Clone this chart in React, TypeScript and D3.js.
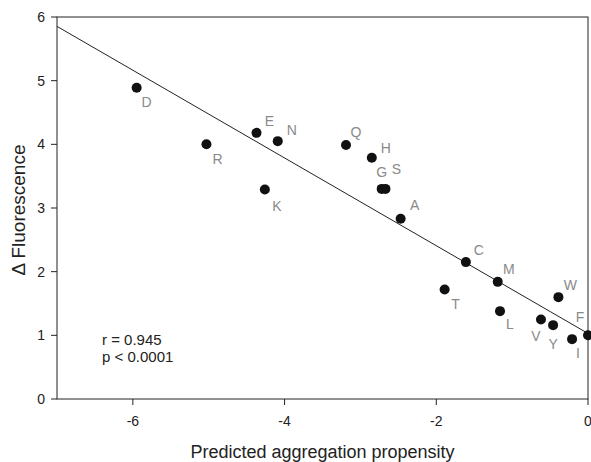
import React from 'react';
import * as d3 from 'd3';

// residue one-letter codes
const residues = ['D', 'R', 'E', 'K', 'N', 'Q', 'H', 'G', 'S', 'A', 'T', 'C', 'M', 'L', 'V', 'Y', 'W', 'I', 'F'];
// predicted aggregation propensity
const propensity = [-5.95, -5.03, -4.37, -4.26, -4.09, -3.19, -2.85, -2.72, -2.67, -2.47, -1.89, -1.61, -1.19, -1.16, -0.62, -0.46, -0.39, -0.21, 0.0];
// delta fluorescence
const fluorescence = [4.89, 4.0, 4.18, 3.29, 4.05, 3.99, 3.79, 3.3, 3.3, 2.83, 1.72, 2.15, 1.84, 1.38, 1.25, 1.16, 1.6, 0.94, 1.0];

const xTicks = [-6, -4, -2, 0];
const yTicks = [0, 1, 2, 3, 4, 5, 6];
const statsText = ['r = 0.945', 'p < 0.0001'];

// label offsets (px) relative to each dot
const labelOffsets: [number, number][] = [
  [10, 19], [11, 20], [13, -7], [12, 21], [14, -6], [10, -8], [14, -5], [0, -12], [11, -15], [14, -9],
  [11, 20], [13, -7], [11, -8], [10, 18], [-5, 22], [0, 24], [12, -7], [6, 19], [-8, -13],
];

const W = 591;
const H = 462;
const margin = { left: 57, right: 3, top: 17, bottom: 63 };
const font = "'Liberation Sans', Arial, Helvetica, sans-serif";

export default function App() {
  const x = d3.scaleLinear().domain([-7, 0]).range([margin.left, W - margin.right]);
  const y = d3.scaleLinear().domain([0, 6]).range([H - margin.bottom, margin.top]);

  // least squares fit
  const mx = d3.mean(propensity)!;
  const my = d3.mean(fluorescence)!;
  let sxy = 0, sxx = 0;
  propensity.forEach((v, i) => {
    sxy += (v - mx) * (fluorescence[i] - my);
    sxx += (v - mx) * (v - mx);
  });
  const slope = sxy / sxx;
  const icpt = my - slope * mx;
  const fit = d3.line<number>().x(d => x(d)).y(d => y(icpt + slope * d));

  const x0 = margin.left, x1 = W - margin.right, y0 = H - margin.bottom, y1 = margin.top;

  return (
    <svg width={W} height={H} style={{ position: 'absolute', left: 0, top: 0, background: '#fff' }} fontFamily={font}>
      <rect x={x0} y={y1} width={x1 - x0} height={y0 - y1} fill="none" stroke="#222" strokeWidth={1} />
      {yTicks.map(t => (
        <g key={'y' + t}>
          <line x1={x0 - 6} x2={x0} y1={y(t)} y2={y(t)} stroke="#222" />
          <text x={x0 - 12} y={y(t)} dy="0.35em" textAnchor="end" fontSize={14} fill="#222">{t}</text>
        </g>
      ))}
      {xTicks.map(t => (
        <g key={'x' + t}>
          <line x1={x(t)} x2={x(t)} y1={y0} y2={y0 + 6} stroke="#222" />
          <text x={x(t)} y={y0 + 27} textAnchor="middle" fontSize={14} fill="#222">{t}</text>
        </g>
      ))}
      <path d={fit([-7, 0]) || ''} stroke="#222" strokeWidth={1} fill="none" />
      {residues.map((r, i) => (
        <g key={r}>
          <circle cx={x(propensity[i])} cy={y(fluorescence[i])} r={5} fill="#111" />
          <text
            x={x(propensity[i]) + labelOffsets[i][0]}
            y={y(fluorescence[i]) + labelOffsets[i][1]}
            textAnchor="middle"
            fontSize={14}
            fill="#8a8a8a"
          >{r}</text>
        </g>
      ))}
      {statsText.map((s, i) => (
        <text key={s} x={102} y={345 + i * 17} fontSize={15} fill="#222">{s}</text>
      ))}
      <text x={(x0 + x1) / 2} y={458} textAnchor="middle" fontSize={18} fill="#222">Predicted aggregation propensity</text>
      <text transform="translate(25,210) rotate(-90)" textAnchor="middle" fontSize={19} fill="#222">Δ Fluorescence</text>
    </svg>
  );
}
